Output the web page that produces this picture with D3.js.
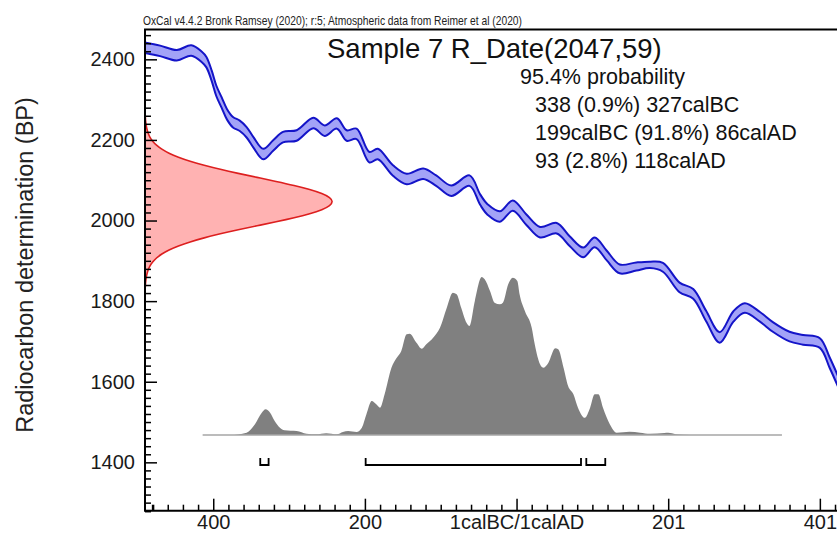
<!DOCTYPE html>
<html>
<head>
<meta charset="utf-8">
<script src="https://cdn.jsdelivr.net/npm/d3@7"></script>
<style>
body { margin: 0; background: #fff; }
svg { display: block; font-family: "Liberation Sans", Arial, sans-serif; }
</style>
</head>
<body>
<div id="chart"></div>
<script>
// calibration curve, x in axis years (0 = 1calBC/1calAD), y in BP
const calYear = [-490, -470, -448, -429, -415, -409, -402, -396, -389, -382, -374, -365, -356, -347,
    -334, -321, -308, -290, -268, -253, -237, -224, -211, -194, -183, -163, -145, -123, -106, -86,
    -62, -48, -38, -22, -5, 13, 31, 53, 70, 88, 103, 119, 136, 158, 176, 193, 215, 233, 250, 268,
    286, 301, 321, 338, 360, 378, 400, 413, 426];
const calBP = [2429, 2421, 2410, 2422, 2406, 2393, 2359, 2322, 2293, 2264, 2244, 2235, 2219, 2194,
    2165, 2186, 2207, 2211, 2242, 2223, 2241, 2211, 2215, 2157, 2165, 2124, 2103, 2116, 2099, 2074,
    2099, 2052, 2027, 2010, 2037, 2002, 1971, 1981, 1949, 1921, 1946, 1913, 1880, 1886, 1890, 1884,
    1834, 1818, 1763, 1710, 1762, 1783, 1761, 1736, 1712, 1704, 1696, 1647, 1592];
const calSigma = [13, 13, 13, 13, 13, 13, 13, 13, 13, 13, 13, 13, 13, 13,
    13, 13, 13, 13, 13, 13, 13, 13, 13, 13, 13, 13, 13, 13, 13, 13,
    13, 13, 13, 13, 13, 13, 13, 13, 12, 12, 12, 12, 11, 10, 8, 11,
    12, 12, 13, 13, 13, 12, 12, 12, 12, 12, 12, 13, 13];

// measurement R_Date(2047,59)
const measBP = [2257, 2247, 2237, 2227, 2217, 2207, 2197, 2187, 2177, 2167, 2157, 2147, 2137, 2127,
    2117, 2107, 2097, 2087, 2077, 2067, 2057, 2047, 2037, 2027, 2017, 2007, 1997, 1987, 1977, 1967,
    1957, 1947, 1937, 1927, 1917, 1907, 1897, 1887, 1877, 1867, 1857, 1847, 1837];
const measP = [0.002, 0.003, 0.006, 0.010, 0.016, 0.025, 0.040, 0.060, 0.088, 0.126, 0.176, 0.238,
    0.313, 0.399, 0.495, 0.596, 0.698, 0.795, 0.879, 0.944, 0.986, 1, 0.986, 0.944, 0.879, 0.795,
    0.698, 0.596, 0.495, 0.399, 0.313, 0.238, 0.176, 0.126, 0.088, 0.060, 0.040, 0.025, 0.016,
    0.010, 0.006, 0.003, 0.002];

// calibrated distribution
const postYear = [-414, -378, -356, -345, -336, -331, -325, -319, -312, -306, -290, -277, -264, -251,
    -237, -229, -222, -211, -204, -198, -191, -185, -180, -174, -165, -158, -152, -145, -141, -132,
    -125, -119, -110, -101, -92, -84, -79, -73, -66, -62, -55, -46, -42, -35, -29, -22, -18, -11,
    -5, 1, 4, 11, 20, 24, 31, 35, 42, 51, 55, 62, 68, 75, 81, 90, 97, 103, 108, 114, 123, 132,
    149, 163, 176, 195, 200, 210, 230, 350];
const postP = [0, 0, 0.015, 0.068, 0.141, 0.163, 0.141, 0.089, 0.046, 0.030, 0.025, 0.008, 0.004, 0.011,
    0.004, 0.019, 0.025, 0.019, 0.046, 0.131, 0.215, 0.194, 0.173, 0.258, 0.426, 0.489, 0.532, 0.637,
    0.641, 0.584, 0.546, 0.574, 0.616, 0.679, 0.806, 0.901, 0.891, 0.806, 0.711, 0.690, 0.848, 1.0,
    0.985, 0.911, 0.837, 0.827, 0.837, 0.954, 0.996, 0.975, 0.891, 0.785, 0.679, 0.574, 0.447, 0.426,
    0.458, 0.549, 0.542, 0.426, 0.310, 0.258, 0.173, 0.109, 0.173, 0.258, 0.258, 0.173, 0.068, 0.015,
    0.021, 0.015, 0.008, 0.012, 0.014, 0.005, 0, 0];

// 95.4% ranges (axis years)
const hpdFrom = [-338, -199, 92];
const hpdTo = [-327, 85, 117];

const xMajor = [-400, -200, 0, 200, 400];
const xLabels = ["400", "200", "1calBC/1calAD", "201", "401"];
const yMajor = [1400, 1600, 1800, 2000, 2200, 2400];

const header = "OxCal v4.4.2 Bronk Ramsey (2020); r:5; Atmospheric data from Reimer et al (2020)";
const title = "Sample 7 R_Date(2047,59)";
const rangeLines = ["95.4% probability", "338 (0.9%) 327calBC", "199calBC (91.8%) 86calAD", "93 (2.8%) 118calAD"];

function drawChart() {
    let W = 837, H = 533;
    let svg = d3.select("#chart").append("svg")
        .attr("width", W)
        .attr("height", H);

    let left = 145, top = 29.5, bottom = 510.7;
    let x = d3.scaleLinear().domain([-490, 430]).range([left, 842.6]);
    let y = d3.scaleLinear().domain([1280, 2474]).range([bottom, top]);

    svg.append("defs").append("clipPath").attr("id", "plot")
        .append("rect")
        .attr("x", left).attr("y", top)
        .attr("width", W - left).attr("height", bottom - top);

    let plot = svg.append("g").attr("clip-path", "url(#plot)");

    // measurement on the y axis
    let measW = d3.scaleLinear().domain([0, 1]).range([0, 188]);
    let meas = measBP.map((bp, i) => ({ bp: bp, p: measP[i] }));
    plot.append("path")
        .datum(meas)
        .attr("fill", "#ffb2b2")
        .attr("stroke", "#dd1f1f")
        .attr("stroke-width", 1.6)
        .attr("d", d3.area()
            .curve(d3.curveBasis)
            .y(d => y(d.bp))
            .x0(left)
            .x1(d => left + measW(d.p)));

    // calibrated distribution
    let postH = d3.scaleLinear().domain([0, 1]).range([435, 277]);
    let post = postYear.map((t, i) => ({ t: t, p: postP[i] }));
    plot.append("path")
        .datum(post)
        .attr("fill", "#808080")
        .attr("d", d3.area()
            .curve(d3.curveMonotoneX)
            .x(d => x(d.t))
            .y0(postH(0))
            .y1(d => postH(d.p)));
    plot.append("line")
        .attr("x1", x(postYear[0])).attr("x2", x(postYear[postYear.length - 1]))
        .attr("y1", postH(0)).attr("y2", postH(0))
        .attr("stroke", "#a6a6a6")
        .attr("stroke-width", 1.5);

    // calibration curve band
    let cal = calYear.map((t, i) => ({ t: t, bp: calBP[i], s: calSigma[i] }));
    plot.append("path")
        .datum(cal)
        .attr("fill", "#a3a3f7")
        .attr("d", d3.area()
            .curve(d3.curveCatmullRom)
            .x(d => x(d.t))
            .y0(d => y(d.bp - d.s))
            .y1(d => y(d.bp + d.s)));
    [1, -1].forEach(function(k) {
        plot.append("path")
            .datum(cal)
            .attr("fill", "none")
            .attr("stroke", "#1414c8")
            .attr("stroke-width", 2)
            .attr("d", d3.line()
                .curve(d3.curveCatmullRom)
                .x(d => x(d.t))
                .y(d => y(d.bp + k * d.s)));
    });

    // range brackets
    let by = 465;
    hpdFrom.forEach(function(a, i) {
        let b = hpdTo[i];
        svg.append("path")
            .attr("fill", "none")
            .attr("stroke", "#000")
            .attr("stroke-width", 1.8)
            .attr("d", "M" + x(a) + "," + (by - 7) + "V" + by + "H" + x(b) + "V" + (by - 7));
    });

    // axes, ticks inward
    let yMinor = d3.range(1280, 2474, 20).filter(v => v % 200 != 0);
    let xMinor = d3.range(-480, 430, 20).filter(v => v % 200 != 0);

    let gy = svg.append("g").attr("transform", "translate(" + left + ",0)");
    gy.call(d3.axisLeft(y).tickValues(yMinor).tickSize(-6).tickFormat(""));
    gy.append("g").call(d3.axisLeft(y).tickValues(yMajor).tickSize(-12).tickPadding(10).tickFormat(d3.format("d")));

    let gx = svg.append("g").attr("transform", "translate(0," + bottom + ")");
    gx.call(d3.axisBottom(x).tickValues(xMinor).tickSize(-6).tickFormat(""));
    gx.append("g").call(d3.axisBottom(x).tickValues(xMajor).tickSize(-12).tickPadding(4)
        .tickFormat((d, i) => xLabels[i]));

    svg.selectAll(".domain").remove();
    svg.selectAll(".tick line").attr("stroke", "#000").attr("stroke-width", 1.5);
    gy.select("g").selectAll(".tick line").attr("stroke-width", 2.5);
    gx.select("g").selectAll(".tick line").attr("stroke-width", 2.5);
    svg.selectAll(".tick text")
        .attr("fill", "#1a1a1a")
        .style("font-size", "20px")
        .style("font-family", "'Liberation Sans', Arial, sans-serif");

    // frame
    svg.append("path")
        .attr("fill", "none")
        .attr("stroke", "#000")
        .attr("stroke-width", 2)
        .attr("d", "M" + W + "," + top + "H" + left + "V" + bottom + "H" + W);

    // texts
    svg.append("text")
        .attr("x", 143).attr("y", 25)
        .attr("textLength", 379)
        .attr("lengthAdjust", "spacingAndGlyphs")
        .style("font-family", "'Liberation Sans Narrow', 'Arial Narrow', 'Liberation Sans', sans-serif")
        .style("font-size", "13px")
        .attr("fill", "#222")
        .text(header);

    svg.append("text")
        .attr("x", 327).attr("y", 58)
        .style("font-size", "27.5px")
        .attr("fill", "#111")
        .text(title);

    svg.selectAll(".rl")
        .data(rangeLines)
        .enter()
        .append("text")
        .attr("class", "rl")
        .attr("x", (d, i) => i == 0 ? 520 : 535)
        .attr("y", (d, i) => 83.5 + i * 28.2)
        .style("font-size", "21.5px")
        .attr("fill", "#111")
        .text(d => d);

    svg.append("text")
        .attr("transform", "translate(33,265) rotate(-90)")
        .attr("text-anchor", "middle")
        .style("font-size", "23.5px")
        .attr("fill", "#222")
        .text("Radiocarbon determination (BP)");
}

drawChart();
</script>
</body>
</html>
